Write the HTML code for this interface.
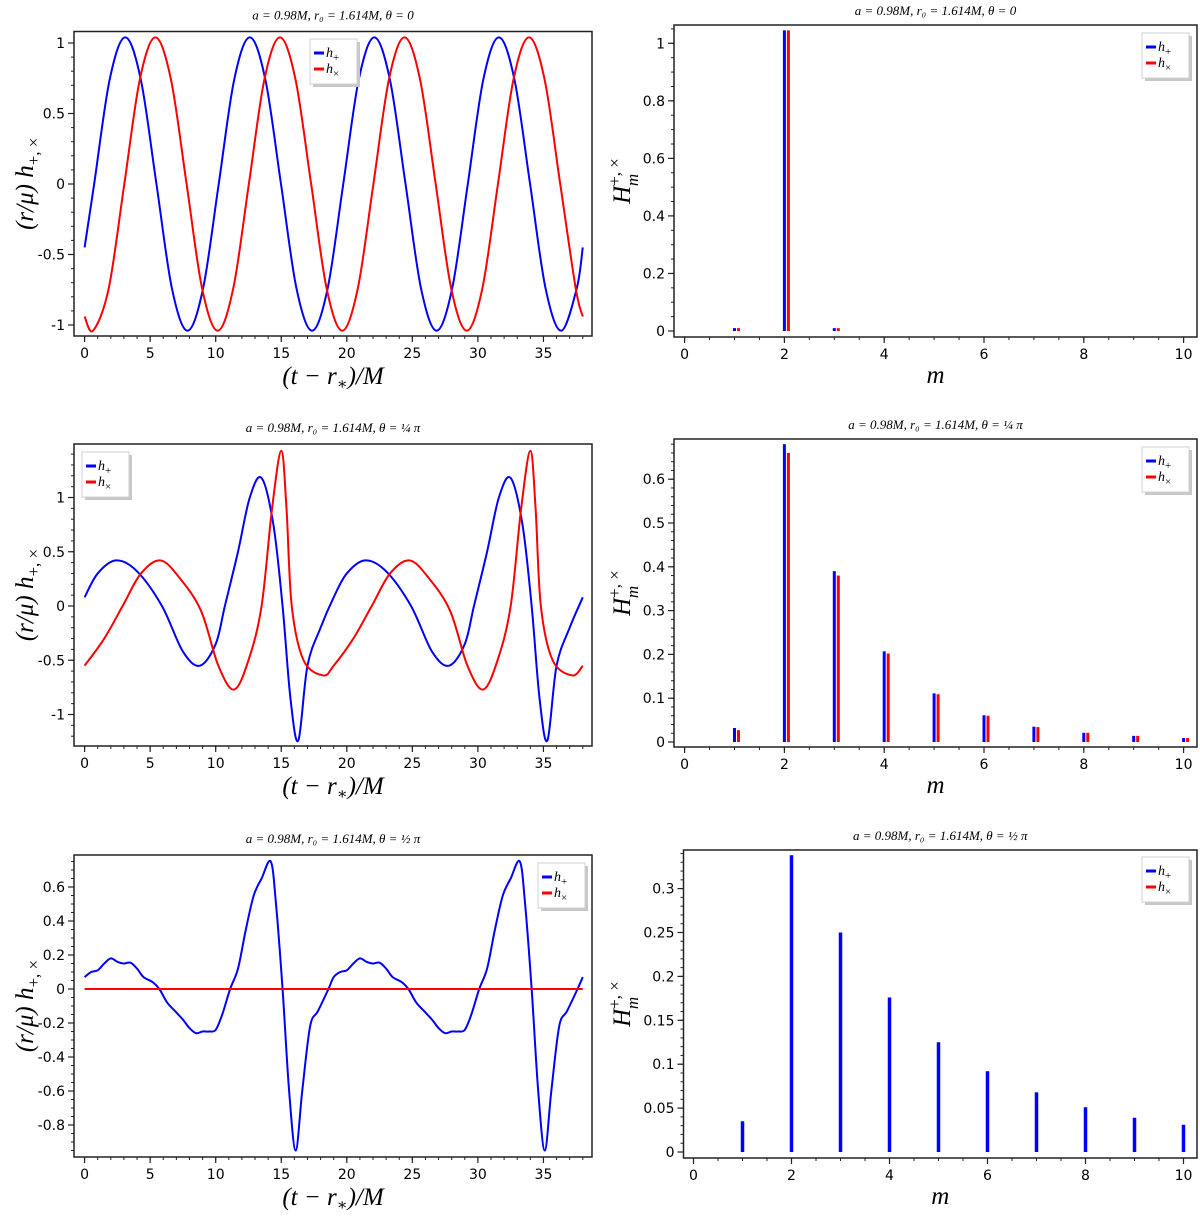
<!DOCTYPE html>
<html><head><meta charset="utf-8">
<style>
html,body{margin:0;padding:0;background:#fff;}
svg{display:block;}
.tk{font-family:"DejaVu Sans","Liberation Sans",sans-serif;font-size:14px;fill:#000;}
.tt{font-family:"Liberation Serif","DejaVu Serif",serif;font-style:italic;font-size:13px;fill:#000;}
.al{font-family:"Liberation Serif","DejaVu Serif",serif;font-style:italic;font-size:25px;fill:#000;}
.lg{font-family:"Liberation Serif","DejaVu Serif",serif;font-style:italic;font-size:14px;fill:#000;}
</style></head>
<body>
<svg id="fig" width="1200" height="1217" viewBox="0 0 1200 1217"></svg>
<script>
// ---------- data ----------
const tBlue1=[0,0.73,1.91,3.1,4.29,5.48,6.66,7.85,9.04,10.23,11.41,12.6,13.79,14.98,16.16,17.35,18.54,19.73,20.91,22.1,23.29,24.48,25.66,26.85,28.04,29.23,30.41,31.6,32.79,33.98,35.16,36.35,37.54,38];
const vBlue1=[-0.45,0,0.74,1.04,0.74,0,-0.74,-1.04,-0.74,0,0.74,1.04,0.74,0,-0.74,-1.04,-0.74,0,0.74,1.04,0.74,0,-0.74,-1.04,-0.74,0,0.74,1.04,0.74,0,-0.74,-1.04,-0.74,-0.45];
const tRed1=[0,0.65,1.84,3.03,4.21,5.4,6.59,7.78,8.96,10.15,11.34,12.53,13.71,14.9,16.09,17.28,18.46,19.65,20.84,22.03,23.21,24.4,25.59,26.78,27.96,29.15,30.34,31.53,32.71,33.9,35.09,36.28,37.46,38];
const vRed1=[-0.94,-1.04,-0.74,0,0.74,1.04,0.74,0,-0.74,-1.04,-0.74,0,0.74,1.04,0.74,0,-0.74,-1.04,-0.74,0,0.74,1.04,0.74,0,-0.74,-1.04,-0.74,0,0.74,1.04,0.74,0,-0.74,-0.94];

const tBlue2=[0,1,2.4,4,5.9,7.5,8.8,10,10.7,11.7,12.6,13.5,14.4,15.1,15.7,16.3,17,18,19,20,21.4,23,24.9,26.5,27.8,29,29.7,30.7,31.6,32.5,33.4,34.1,34.7,35.3,36,37,38];
const vBlue2=[0.08,0.3,0.42,0.32,0,-0.42,-0.55,-0.35,0,0.5,1.0,1.18,0.75,0,-0.85,-1.24,-0.55,-0.2,0.08,0.3,0.42,0.32,0,-0.42,-0.55,-0.35,0,0.5,1.0,1.18,0.75,0,-0.85,-1.24,-0.55,-0.2,0.08];
const tRed2=[0,1.5,2.9,4.3,5.8,7.3,8.9,10.2,11.4,12.5,13.5,14.3,15.0,15.4,15.8,16.7,18.2,19,20.5,21.9,23.3,24.8,26.3,27.9,29.2,30.4,31.5,32.5,33.3,34.0,34.4,34.8,35.7,37.2,38];
const vRed2=[-0.55,-0.3,0,0.3,0.42,0.25,-0.05,-0.55,-0.77,-0.5,0,0.9,1.43,0.9,0,-0.5,-0.64,-0.55,-0.3,0,0.3,0.42,0.25,-0.05,-0.55,-0.77,-0.5,0,0.9,1.43,0.9,0,-0.5,-0.64,-0.55];

const tBlue3=[0,0.5,1,1.5,2,2.5,3,3.5,4,4.5,5.2,5.7,6.3,6.9,7.5,8,8.5,9,9.5,10,10.5,11.1,11.7,12.3,12.9,13.5,14.2,14.6,15.1,15.6,16.1,16.6,17.2,17.8,18.6,19,19.5,20,20.5,21,21.5,22,22.5,23,23.5,24.2,24.7,25.3,25.9,26.5,27,27.5,28,28.5,29,29.5,30.1,30.7,31.3,31.9,32.5,33.2,33.6,34.1,34.6,35.1,35.6,36.2,36.8,37.6,38];
const vBlue3=[0.07,0.1,0.11,0.15,0.18,0.16,0.15,0.155,0.12,0.07,0.04,0,-0.08,-0.13,-0.18,-0.23,-0.26,-0.25,-0.25,-0.24,-0.15,0,0.12,0.35,0.55,0.65,0.75,0.5,0,-0.6,-0.95,-0.6,-0.22,-0.13,0,0.07,0.1,0.11,0.15,0.18,0.16,0.15,0.155,0.12,0.07,0.04,0,-0.08,-0.13,-0.18,-0.23,-0.26,-0.25,-0.25,-0.24,-0.15,0,0.12,0.35,0.55,0.65,0.75,0.5,0,-0.6,-0.95,-0.6,-0.22,-0.13,0,0.07];
const tRed3=[0,38];
const vRed3=[0,0];

const mCats=[1,2,3,4,5,6,7,8,9,10];
const barBlue1=[0.01,1.045,0.01,0,0,0,0,0,0,0];
const barRed1=[0.01,1.045,0.01,0,0,0,0,0,0,0];
const barBlue2=[0.032,0.68,0.39,0.207,0.111,0.061,0.035,0.021,0.014,0.009];
const barRed2=[0.027,0.66,0.38,0.202,0.109,0.060,0.034,0.021,0.014,0.009];
const barBlue3=[0.035,0.338,0.25,0.176,0.125,0.092,0.068,0.051,0.039,0.031];
const barRed3=[0,0,0,0,0,0,0,0,0,0];

const xTicksT=[0,5,10,15,20,25,30,35];
const xTicksM=[0,2,4,6,8,10];
const yTicksL1=[-1,-0.5,0,0.5,1];
const yTicksL2=[-1,-0.5,0,0.5,1];
const yTicksL3=[-0.8,-0.6,-0.4,-0.2,0,0.2,0.4,0.6];
const yTicksR1=[0,0.2,0.4,0.6,0.8,1];
const yTicksR2=[0,0.1,0.2,0.3,0.4,0.5,0.6];
const yTicksR3=[0,0.05,0.1,0.15,0.2,0.25,0.3];

// ---------- drawing ----------
const svg=document.getElementById('fig');
const NSU=svg.namespaceURI;
function el(tag,attrs,parent){const e=document.createElementNS(NSU,tag);for(const k in attrs)e.setAttribute(k,attrs[k]);(parent||svg).appendChild(e);return e;}

function catmull(pts){
  let d='M'+pts[0][0].toFixed(2)+','+pts[0][1].toFixed(2);
  for(let i=0;i<pts.length-1;i++){
    const p0=pts[Math.max(0,i-1)],p1=pts[i],p2=pts[i+1],p3=pts[Math.min(pts.length-1,i+2)];
    const c1x=p1[0]+(p2[0]-p0[0])/6,c1y=p1[1]+(p2[1]-p0[1])/6;
    const c2x=p2[0]-(p3[0]-p1[0])/6,c2y=p2[1]-(p3[1]-p1[1])/6;
    d+=' C'+c1x.toFixed(2)+','+c1y.toFixed(2)+' '+c2x.toFixed(2)+','+c2y.toFixed(2)+' '+p2[0].toFixed(2)+','+p2[1].toFixed(2);
  }
  return d;
}

function titleText(g,cx,y,th){
  const t=el('text',{x:cx,y:y,'text-anchor':'middle',class:'tt'},g);
  
  
  t.textContent='a = 0.98M,     r\u2080 = 1.614M,     \u03b8 = '+th;
}

function legend(g,x,y){
  const lg=el('g',{},g);
  
  
  el('rect',{x:x+3,y:y+3,width:47,height:45,fill:'#c8c8c8'},lg);
  el('rect',{x:x,y:y,width:47,height:45,fill:'#fff',stroke:'#d0d0d0','stroke-width':1},lg);
  const items=[['#0000ff','+','h-plus'],['#ff0000','\u00d7','h-cross']];
  items.forEach((it,i)=>{
    const e=el('g',{},lg);
    
    
    const yy=y+14+i*16;
    el('line',{x1:x+4,x2:x+14,y1:yy,y2:yy,stroke:it[0],'stroke-width':3},e);
    const t=el('text',{x:x+16,y:yy+4,class:'lg'},e);
    t.textContent='h';
    const s=el('tspan',{dy:4,'font-size':'11','font-style':'normal'},t);
    s.textContent=it[1];
  });
}

function axes(g,P,xt,yt,yMinorStep,xMinorStep){
  el('rect',{x:P.L,y:P.T,width:P.R-P.L,height:P.B-P.T,fill:'none',stroke:'#222','stroke-width':1.5},g);
  const X=v=>P.x0+v*P.kx, Y=v=>P.y0-v*P.ky;
  // x minor ticks
  const xmin=(P.L-P.x0)/P.kx, xmax=(P.R-P.x0)/P.kx;
  for(let v=Math.ceil(xmin/xMinorStep)*xMinorStep;v<=xmax+1e-9;v+=xMinorStep){
    el('line',{x1:X(v),x2:X(v),y1:P.B,y2:P.B+3,stroke:'#222','stroke-width':1},g);
  }
  const ymin=(P.y0-P.B)/P.ky, ymax=(P.y0-P.T)/P.ky;
  for(let v=Math.ceil(ymin/yMinorStep)*yMinorStep;v<=ymax+1e-9;v+=yMinorStep){
    el('line',{x1:P.L-3,x2:P.L,y1:Y(v),y2:Y(v),stroke:'#222','stroke-width':1},g);
  }
  xt.forEach(v=>{
    el('line',{x1:X(v),x2:X(v),y1:P.B,y2:P.B+6,stroke:'#222','stroke-width':1.2},g);
    const t=el('text',{x:X(v),y:P.B+22,'text-anchor':'middle',class:'tk'},g);
    
    
    t.textContent=String(v);
  });
  yt.forEach(v=>{
    el('line',{x1:P.L-6,x2:P.L,y1:Y(v),y2:Y(v),stroke:'#222','stroke-width':1.2},g);
    const t=el('text',{x:P.L-9,y:Y(v)+5,'text-anchor':'end',class:'tk'},g);
    
    
    t.textContent=String(v);
  });
  return [X,Y];
}

function linePanel(name,P,yt,yMinor,ts,bs,tr,rs,th,lgx,lgy){
  const g=el('g',{});
  
  
  const [X,Y]=axes(g,P,xTicksT,yt,yMinor,1);
  const cl=el('path',{d:catmull(ts.map((t,i)=>[X(t),Y(bs[i])])),fill:'none',stroke:'#0000ff','stroke-width':2},g);
  
  
  const cr=el('path',{d:catmull(tr.map((t,i)=>[X(t),Y(rs[i])])),fill:'none',stroke:'#ff0000','stroke-width':2},g);
  
  
  titleText(g,(P.L+P.R)/2,P.T-12,th);
  const xl=el('text',{x:(P.L+P.R)/2,y:P.B+48,'text-anchor':'middle',class:'al'},g);
  
  
  xl.textContent='(t \u2212 r';
  const s1=el('tspan',{dy:5,'font-size':'16','font-style':'normal'},xl);s1.textContent='\u2217';
  const s2=el('tspan',{dy:-5},xl);s2.textContent=')/M';
  const yl=el('text',{transform:'translate(33,'+((P.T+P.B)/2)+') rotate(-90)','text-anchor':'middle',class:'al'},g);
  
  
  yl.textContent='(r/\u03bc) h';
  const s3=el('tspan',{dy:6,'font-size':'17','font-style':'normal'},yl);s3.textContent='+, \u00d7';
  legend(g,lgx,lgy);
}

function barPanel(name,P,yt,yMinor,bb,br,th,bw,lgx,lgy){
  const g=el('g',{});
  
  
  const [X,Y]=axes(g,P,xTicksM,yt,yMinor,0.5);
  mCats.forEach((m,i)=>{
    if(bb[i]>0){
      const r=el('rect',{x:X(m)-bw/2,y:Y(bb[i]),width:bw,height:Y(0)-Y(bb[i]),fill:'#0000ff'},g);
      
      
    }
    if(br[i]>0){
      const r=el('rect',{x:X(m)+bw/2+1,y:Y(br[i]),width:bw,height:Y(0)-Y(br[i]),fill:'#ff0000'},g);
      
      
    }
  });
  titleText(g,(P.L+P.R)/2,P.T-10,th);
  const xl=el('text',{x:(P.L+P.R)/2,y:P.B+46,'text-anchor':'middle',class:'al'},g);
  
  
  xl.textContent='m';
  const yl=el('text',{transform:'translate(630,'+((P.T+P.B)/2)+') rotate(-90)','text-anchor':'middle',class:'al'},g);
  
  
  yl.textContent='H';
  const a=el('tspan',{dy:-10,'font-size':'17','font-style':'normal'},yl);a.textContent='+, \u00d7';
  const b=el('tspan',{dx:-28,dy:18,'font-size':'17'},yl);b.textContent='m';
  legend(g,lgx,lgy);
}

linePanel('panel-waveform-theta-0',{L:74,R:592,T:31.5,B:336,x0:84.6,kx:13.11,y0:184,ky:141},yTicksL1,0.1,tBlue1,vBlue1,tRed1,vRed1,'0',310,39);
linePanel('panel-waveform-theta-quarter-pi',{L:74,R:592,T:444,B:746,x0:84.6,kx:13.11,y0:606,ky:108.5},yTicksL2,0.1,tBlue2,vBlue2,tRed2,vRed2,'\u00bc \u03c0',82,452);
linePanel('panel-waveform-theta-half-pi',{L:74,R:592,T:855,B:1157,x0:84.6,kx:13.11,y0:989,ky:170},yTicksL3,0.05,tBlue3,vBlue3,tRed3,vRed3,'\u00bd \u03c0',538,863);

barPanel('panel-spectrum-theta-0',{L:674,R:1197,T:25,B:337,x0:684.6,kx:49.9,y0:331,ky:287.7},yTicksR1,0.05,barBlue1,barRed1,'0',3,1142,33);
barPanel('panel-spectrum-theta-quarter-pi',{L:674,R:1197,T:439,B:747,x0:684.6,kx:49.9,y0:742,ky:438},yTicksR2,0.02,barBlue2,barRed2,'\u00bc \u03c0',3,1142,447);
barPanel('panel-spectrum-theta-half-pi',{L:683.5,R:1197,T:850,B:1158,x0:693.5,kx:49.0,y0:1152,ky:878},yTicksR3,0.01,barBlue3,barRed3,'\u00bd \u03c0',3.5,1142,857);
</script>
</body></html>
